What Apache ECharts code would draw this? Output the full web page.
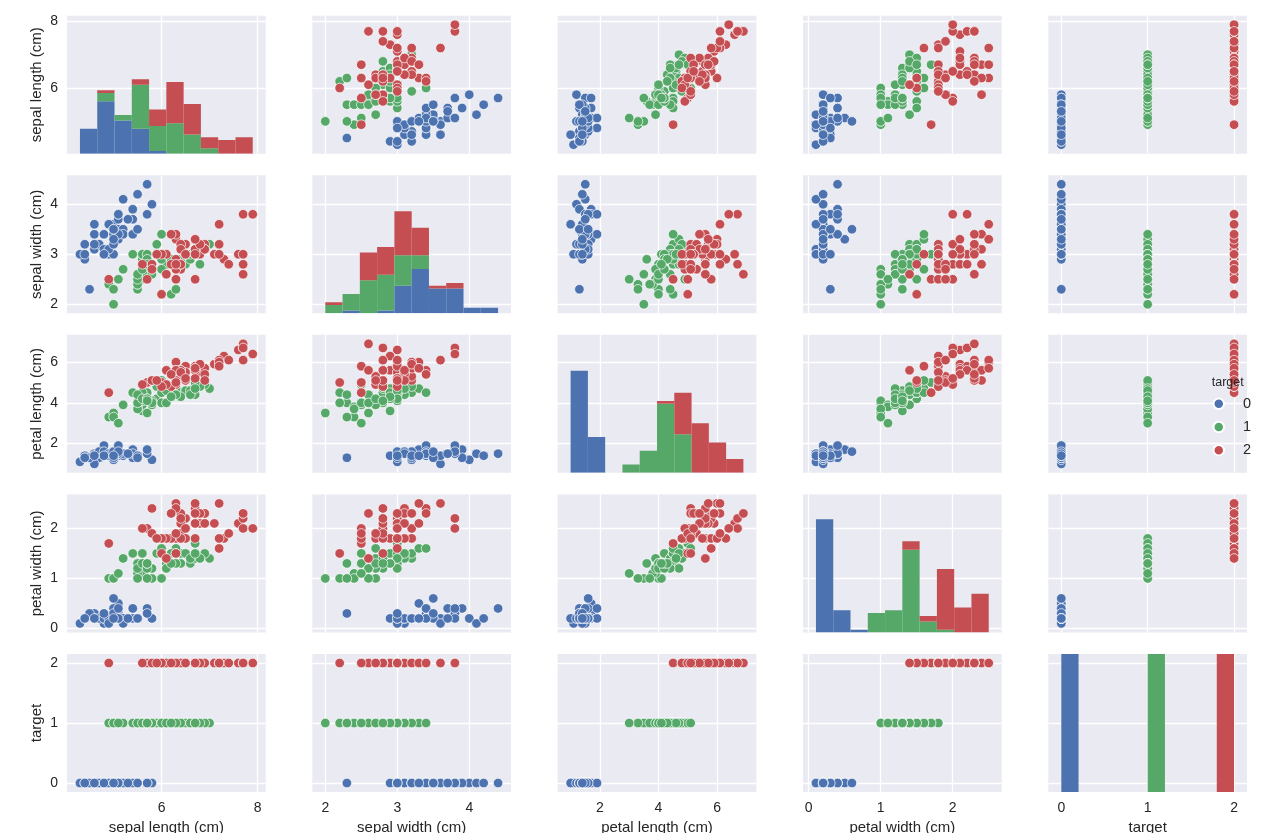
<!DOCTYPE html>
<html><head><meta charset="utf-8">
<script src="https://cdn.jsdelivr.net/npm/echarts@6/dist/echarts.min.js"></script>
<style>html,body{margin:0;padding:0;background:#fff;}#chart{width:1263px;height:833px;}</style>
</head><body><div id="chart"></div>
<script>
// Iris dataset (150 rows)
const sepalLength = [5.1,4.9,4.7,4.6,5.0,5.4,4.6,5.0,4.4,4.9,5.4,4.8,4.8,4.3,5.8,5.7,5.4,5.1,5.7,5.1,5.4,5.1,4.6,5.1,4.8,5.0,5.0,5.2,5.2,4.7,4.8,5.4,5.2,5.5,4.9,5.0,5.5,4.9,4.4,5.1,5.0,4.5,4.4,5.0,5.1,4.8,5.1,4.6,5.3,5.0,
7.0,6.4,6.9,5.5,6.5,5.7,6.3,4.9,6.6,5.2,5.0,5.9,6.0,6.1,5.6,6.7,5.6,5.8,6.2,5.6,5.9,6.1,6.3,6.1,6.4,6.6,6.8,6.7,6.0,5.7,5.5,5.5,5.8,6.0,5.4,6.0,6.7,6.3,5.6,5.5,5.5,6.1,5.8,5.0,5.6,5.7,5.7,6.2,5.1,5.7,
6.3,5.8,7.1,6.3,6.5,7.6,4.9,7.3,6.7,7.2,6.5,6.4,6.8,5.7,5.8,6.4,6.5,7.7,7.7,6.0,6.9,5.6,7.7,6.3,6.7,7.2,6.2,6.1,6.4,7.2,7.4,7.9,6.4,6.3,6.1,7.7,6.3,6.4,6.0,6.9,6.7,6.9,5.8,6.8,6.7,6.7,6.3,6.5,6.2,5.9];
const sepalWidth = [3.5,3.0,3.2,3.1,3.6,3.9,3.4,3.4,2.9,3.1,3.7,3.4,3.0,3.0,4.0,4.4,3.9,3.5,3.8,3.8,3.4,3.7,3.6,3.3,3.4,3.0,3.4,3.5,3.4,3.2,3.1,3.4,4.1,4.2,3.1,3.2,3.5,3.6,3.0,3.4,3.5,2.3,3.2,3.5,3.8,3.0,3.8,3.2,3.7,3.3,
3.2,3.2,3.1,2.3,2.8,2.8,3.3,2.4,2.9,2.7,2.0,3.0,2.2,2.9,2.9,3.1,3.0,2.7,2.2,2.5,3.2,2.8,2.5,2.8,2.9,3.0,2.8,3.0,2.9,2.6,2.4,2.4,2.7,2.7,3.0,3.4,3.1,2.3,3.0,2.5,2.6,3.0,2.6,2.3,2.7,3.0,2.9,2.9,2.5,2.8,
3.3,2.7,3.0,2.9,3.0,3.0,2.5,2.9,2.5,3.6,3.2,2.7,3.0,2.5,2.8,3.2,3.0,3.8,2.6,2.2,3.2,2.8,2.8,2.7,3.3,3.2,2.8,3.0,2.8,3.0,2.8,3.8,2.8,2.8,2.6,3.0,3.4,3.1,3.0,3.1,3.1,3.1,2.7,3.2,3.3,3.0,2.5,3.0,3.4,3.0];
const petalLength = [1.4,1.4,1.3,1.5,1.4,1.7,1.4,1.5,1.4,1.5,1.5,1.6,1.4,1.1,1.2,1.5,1.3,1.4,1.7,1.5,1.7,1.5,1.0,1.7,1.9,1.6,1.6,1.5,1.4,1.6,1.6,1.5,1.5,1.4,1.5,1.2,1.3,1.4,1.3,1.5,1.3,1.3,1.3,1.6,1.9,1.4,1.6,1.4,1.5,1.4,
4.7,4.5,4.9,4.0,4.6,4.5,4.7,3.3,4.6,3.9,3.5,4.2,4.0,4.7,3.6,4.4,4.5,4.1,4.5,3.9,4.8,4.0,4.9,4.7,4.3,4.4,4.8,5.0,4.5,3.5,3.8,3.7,3.9,5.1,4.5,4.5,4.7,4.4,4.1,4.0,4.4,4.6,4.0,3.3,4.2,4.2,4.2,4.3,3.0,4.1,
6.0,5.1,5.9,5.6,5.8,6.6,4.5,6.3,5.8,6.1,5.1,5.3,5.5,5.0,5.1,5.3,5.5,6.7,6.9,5.0,5.7,4.9,6.7,4.9,5.7,6.0,4.8,4.9,5.6,5.8,6.1,6.4,5.6,5.1,5.6,6.1,5.6,5.5,4.8,5.4,5.6,5.1,5.1,5.9,5.7,5.2,5.0,5.2,5.4,5.1];
const petalWidth = [0.2,0.2,0.2,0.2,0.2,0.4,0.3,0.2,0.2,0.1,0.2,0.2,0.1,0.1,0.2,0.4,0.4,0.3,0.3,0.3,0.2,0.4,0.2,0.5,0.2,0.2,0.4,0.2,0.2,0.2,0.2,0.4,0.1,0.2,0.2,0.2,0.2,0.1,0.2,0.2,0.3,0.3,0.2,0.6,0.4,0.3,0.2,0.2,0.2,0.2,
1.4,1.5,1.5,1.3,1.5,1.3,1.6,1.0,1.3,1.4,1.0,1.5,1.0,1.4,1.3,1.4,1.5,1.0,1.5,1.1,1.8,1.3,1.5,1.2,1.3,1.4,1.4,1.7,1.5,1.0,1.1,1.0,1.2,1.6,1.5,1.6,1.5,1.3,1.3,1.3,1.2,1.4,1.2,1.0,1.3,1.2,1.3,1.3,1.1,1.3,
2.5,1.9,2.1,1.8,2.2,2.1,1.7,1.8,1.8,2.5,2.0,1.9,2.1,2.0,2.4,2.3,1.8,2.2,2.3,1.5,2.3,2.0,2.0,1.8,2.1,1.8,1.8,1.8,2.1,1.6,1.9,2.0,2.2,1.5,1.4,2.3,2.4,1.8,1.8,2.1,2.4,2.3,1.9,2.3,2.5,2.3,1.9,2.0,2.3,1.8];
const target = [0,0,0,0,0,0,0,0,0,0,0,0,0,0,0,0,0,0,0,0,0,0,0,0,0,0,0,0,0,0,0,0,0,0,0,0,0,0,0,0,0,0,0,0,0,0,0,0,0,0,
1,1,1,1,1,1,1,1,1,1,1,1,1,1,1,1,1,1,1,1,1,1,1,1,1,1,1,1,1,1,1,1,1,1,1,1,1,1,1,1,1,1,1,1,1,1,1,1,1,1,
2,2,2,2,2,2,2,2,2,2,2,2,2,2,2,2,2,2,2,2,2,2,2,2,2,2,2,2,2,2,2,2,2,2,2,2,2,2,2,2,2,2,2,2,2,2,2,2,2,2];

const varNames = ['sepal length (cm)','sepal width (cm)','petal length (cm)','petal width (cm)','target'];
const axisMin = [4.03, 1.82, 0.5575, -0.08, -0.15];
const axisMax = [8.17, 4.58, 7.3425, 2.68, 2.15];
const tickValues = [[6,8],[2,3,4],[2,4,6],[0,1,2],[0,1,2]];
const classNames = ['0','1','2'];
const colors = ['#4C72B0','#55A868','#C44E52'];
const histBinCount = 10;
const histCountMax = 50;

const cols = [sepalLength, sepalWidth, petalLength, petalWidth, target];

// layout
const L0 = 67, COLSTEP = 245.33, CW = 198.7;
const T0 = 15.7, ROWSTEP = 159.58, CH = 138;
const FONT = '"Liberation Sans", Arial, sans-serif';
const TXT = '#262626';

// numpy-style stacked histogram bins
function histRects(vals) {
  let mn = Infinity, mx = -Infinity;
  vals.forEach(v => { if (v < mn) mn = v; if (v > mx) mx = v; });
  const step = (mx - mn) / histBinCount;
  const edges = [];
  for (let i = 0; i <= histBinCount; i++) edges.push(i * step + mn);
  edges[histBinCount] = mx;
  const counts = [0,1,2].map(() => new Array(histBinCount).fill(0));
  vals.forEach((v, i) => {
    let b = histBinCount - 1;
    for (let j = 0; j < histBinCount; j++) { if (v >= edges[j] && v < edges[j + 1]) { b = j; break; } }
    counts[target[i]][b]++;
  });
  const rects = [];
  for (let j = 0; j < histBinCount; j++) {
    let base = 0;
    for (let k = 0; k < 3; k++) {
      const c = counts[k][j];
      if (c > 0) rects.push([edges[j], edges[j + 1], base, base + c, k]);
      base += c;
    }
  }
  return rects;
}

const grids = [], xAxes = [], yAxes = [], series = [];
for (let r = 0; r < 5; r++) {
  for (let c = 0; c < 5; c++) {
    const gi = grids.length;
    grids.push({
      left: L0 + c * COLSTEP, top: T0 + r * ROWSTEP, width: CW, height: CH,
      show: true, backgroundColor: '#EAEAF2', borderWidth: 0,
      containLabel: false, outerBoundsMode: 'none'
    });
    xAxes.push({
      gridIndex: gi, type: 'value', min: axisMin[c], max: axisMax[c],
      axisLine: { show: false },
      axisTick: { show: false, customValues: tickValues[c] },
      axisLabel: { show: r === 4, customValues: tickValues[c], margin: 9, fontSize: 14, color: TXT, fontFamily: FONT },
      splitLine: { show: true, lineStyle: { color: '#ffffff', width: 1.3 } },
      name: r === 4 ? varNames[c] : '', nameLocation: 'middle', nameGap: 28,
      nameTextStyle: { fontSize: 15, color: TXT, fontFamily: FONT }
    });
    const yi = yAxes.length;
    yAxes.push({
      gridIndex: gi, type: 'value', min: axisMin[r], max: axisMax[r],
      axisLine: { show: false },
      axisTick: { show: false, customValues: tickValues[r] },
      axisLabel: { show: c === 0, customValues: tickValues[r], margin: 9, fontSize: 14, color: TXT, fontFamily: FONT },
      splitLine: { show: true, lineStyle: { color: '#ffffff', width: 1.3 } },
      name: c === 0 ? varNames[r] : '', nameLocation: 'middle', nameRotate: 90, nameGap: 23,
      nameTextStyle: { fontSize: 15, color: TXT, fontFamily: FONT }
    });
    if (r === c) {
      const hi = yAxes.length;
      yAxes.push({ gridIndex: gi, type: 'value', min: 0, max: histCountMax, show: false, splitLine: { show: false } });
      series.push({
        type: 'custom', name: 'hist' + c, xAxisIndex: gi, yAxisIndex: hi,
        silent: true, clip: true,
        encode: { x: [0, 1], y: [2, 3] },
        data: histRects(cols[c]),
        renderItem: function (params, api) {
          const p0 = api.coord([api.value(0), api.value(2)]);
          const p1 = api.coord([api.value(1), api.value(3)]);
          return {
            type: 'rect',
            shape: { x: p0[0], y: p1[1], width: p1[0] - p0[0], height: p0[1] - p1[1] },
            style: { fill: colors[api.value(4)] }
          };
        }
      });
    } else {
      for (let k = 0; k < 3; k++) {
        const pts = [];
        for (let i = 0; i < target.length; i++) if (target[i] === k) pts.push([cols[c][i], cols[r][i]]);
        series.push({
          type: 'scatter', name: classNames[k], xAxisIndex: gi, yAxisIndex: yi,
          data: pts, symbol: 'circle', symbolSize: 9.6, silent: true,
          itemStyle: { color: colors[k], borderColor: '#ffffff', borderWidth: 0.7, opacity: 1 },
          emphasis: { disabled: true }
        });
      }
    }
  }
}

const chart = echarts.init(document.getElementById('chart'), null, { renderer: 'canvas' });
chart.setOption({
  backgroundColor: '#ffffff',
  animation: false,
  grid: grids, xAxis: xAxes, yAxis: yAxes, series: series,
  legend: {
    data: classNames.map(n => ({ name: n, icon: 'circle' })),
    orient: 'vertical', left: 1207.5, top: 391.3, padding: 5, z: 20,
    itemWidth: 10.5, itemHeight: 10.5, itemGap: 8.2, selectedMode: false,
    textStyle: { fontSize: 14.5, color: TXT, fontFamily: FONT, lineHeight: 14, padding: [0, 0, 0, 14] }
  },
  graphic: [{
    type: 'text', x: 1227.7, y: 383, z: 100, zlevel: 0,
    style: { text: 'target', fontSize: 12.5, fontFamily: FONT, fill: TXT, align: 'center', verticalAlign: 'middle' }
  }]
});
</script>
</body></html>
